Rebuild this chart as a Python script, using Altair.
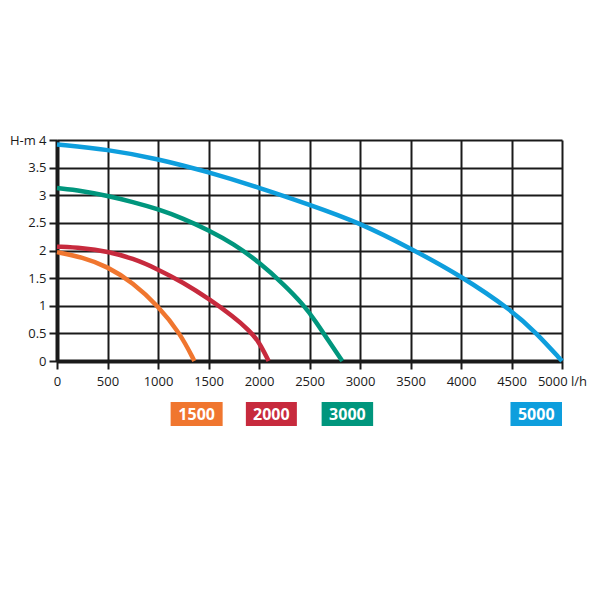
import altair as alt
import pandas as pd

# Series values (flow l/h, head m)
orange_x = [0, 250, 500, 750, 1000, 1220, 1360]
orange_y = [1.97, 1.88, 1.71, 1.42, 1.00, 0.50, 0.0]
red_x = [0, 250, 500, 750, 1000, 1250, 1500, 1750, 1900, 2000, 2095]
red_y = [2.07, 2.05, 1.98, 1.86, 1.66, 1.42, 1.13, 0.80, 0.56, 0.35, 0.0]
green_x = [0, 250, 500, 750, 1000, 1250, 1500, 1750, 2000, 2250, 2440, 2560, 2690, 2825]
green_y = [3.13, 3.08, 2.99, 2.88, 2.75, 2.58, 2.37, 2.12, 1.79, 1.38, 1.02, 0.72, 0.36, 0.0]
blue_x = [0, 500, 1000, 1500, 2000, 2500, 3000, 3500, 4000, 4500, 4750, 5000]
blue_y = [3.92, 3.83, 3.66, 3.42, 3.14, 2.83, 2.50, 2.04, 1.54, 0.92, 0.50, 0.0]

series_names = ["1500", "2000", "3000", "5000"]
series_colors = ["#F0762F", "#C72A3D", "#00967D", "#0E9EDD"]
x_ticks = [0, 500, 1000, 1500, 2000, 2500, 3000, 3500, 4000, 4500, 5000]
y_ticks = [0, 0.5, 1, 1.5, 2, 2.5, 3, 3.5, 4]

# legend box layout (in flow units along the x scale)
legend_x0 = [1125, 1870, 2620, 4490]
legend_x1 = [1640, 2375, 3130, 5000]

rows = []
for name, xs, ys in zip(series_names, [orange_x, red_x, green_x, blue_x],
                        [orange_y, red_y, green_y, blue_y]):
    for i, (a, b) in enumerate(zip(xs, ys)):
        rows.append({"series": name, "flow": a, "head": b, "order": i})
df = pd.DataFrame(rows)

leg = pd.DataFrame({"series": series_names, "x0": legend_x0, "x1": legend_x1,
                    "xm": [(a + b) / 2 for a, b in zip(legend_x0, legend_x1)]})

W, H = 505, 221
font = "Open Sans"
ink = "#1a1a1a"

xscale = alt.Scale(domain=[0, 5000], nice=False, zero=False)
yscale = alt.Scale(domain=[0, 4], nice=False)
cscale = alt.Scale(domain=series_names, range=series_colors)

lines = alt.Chart(df).mark_line(strokeWidth=4.5, interpolate="basis").encode(
    x=alt.X("flow:Q", scale=xscale, axis=alt.Axis(
        values=x_ticks, title=None, grid=True, gridColor=ink, gridWidth=2,
        gridOpacity=1, domainColor=ink, domainWidth=4, tickColor=ink,
        tickWidth=2, tickSize=8, labelFont=font, labelFontSize=13, labelColor=ink,
        labelPadding=6, labelFlush=False, format="d",
        labelExpr="datum.value == 5000 ? '5000 l/h' : datum.label")),
    y=alt.Y("head:Q", scale=yscale, axis=alt.Axis(
        values=y_ticks, title=None, grid=True, gridColor=ink, gridWidth=2,
        gridOpacity=1, domainColor=ink, domainWidth=4, tickColor=ink,
        tickWidth=2, tickSize=8, labelFont=font, labelFontSize=13, labelColor=ink,
        labelPadding=3, labelFlush=False, format="~g",
        labelExpr="datum.value == 4 ? 'H-m 4' : datum.label")),
    color=alt.Color("series:N", scale=cscale, legend=None),
    detail="series:N",
    order="order:Q",
)

boxes = alt.Chart(leg).mark_rect().encode(
    x=alt.X("x0:Q", scale=xscale), x2="x1:Q",
    y=alt.value(H + 41), y2=alt.value(H + 65),
    color=alt.Color("series:N", scale=cscale, legend=None),
)
labels = alt.Chart(leg).mark_text(
    font=font, fontSize=16, fontWeight="bold", color="white", baseline="middle"
).encode(x=alt.X("xm:Q", scale=xscale), y=alt.value(H + 53.5), text="series:N")

chart = alt.layer(lines, boxes, labels).properties(
    width=W, height=H,
    autosize=alt.AutoSizeParams(type="none"),
    padding={"left": 49, "top": 132, "right": 29, "bottom": 150},
).configure_view(stroke=None)

chart.save("out.html", embed_options={"renderer": "svg", "actions": False})
